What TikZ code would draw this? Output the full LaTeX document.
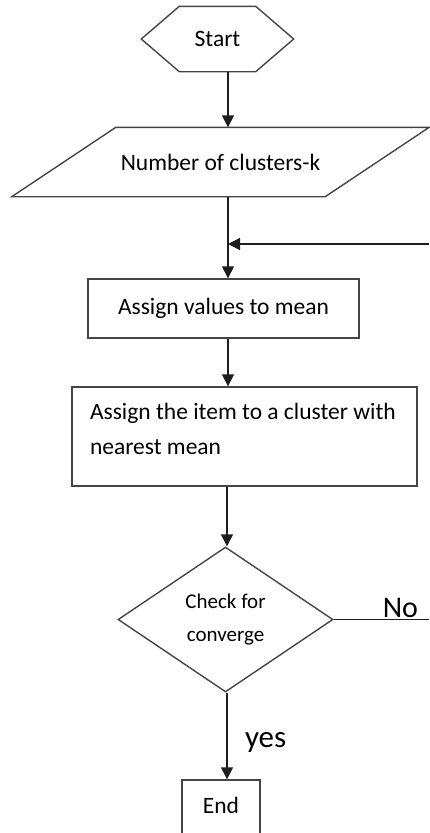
\documentclass[tikz,border=0pt]{standalone}
\usepackage{fontspec}
\setmainfont{Carlito}
\usetikzlibrary{arrows.meta,positioning,calc,shapes.geometric}
\definecolor{Ink}{HTML}{1E1E1E}
\definecolor{Frame}{HTML}{454545}
\begin{document}
\begin{tikzpicture}[x=1pt,y=-1pt,line width=1.4pt,
  flow/.style={-{Triangle[length=12pt,width=12pt]},draw=Ink},
  box/.style={draw=Frame,rectangle,inner sep=0pt},
  txt/.style={font=\fontsize{23.5}{35}\selectfont}]
  \useasboundingbox (0,0) rectangle (429,833);
  % start and input
  \node[txt,minimum width=151,minimum height=64] (start) at (217.5,39) {Start};
  \draw[Frame] (start.west) -- ($(start.north west)+(38,0)$) -- ($(start.north east)+(-38,0)$)
    -- (start.east) -- ($(start.south east)+(-38,0)$) -- ($(start.south west)+(38,0)$) -- cycle;
  \node[txt,minimum width=312,minimum height=68] (input) at (220.5,162) {Number of clusters-k};
  \draw[Frame] ($(input.north west)+(52,0)$) -- ($(input.north east)+(52,0)$)
    -- ($(input.south east)+(-52,0)$) -- ($(input.south west)+(-52,0)$) -- cycle;
  % process boxes
  \node[box,txt,minimum width=271,minimum height=59] (means) at (223.5,308.5) {Assign values to mean};
  \node[box,txt,minimum width=345,minimum height=99,text width=309,text depth=50pt,align=flush left]
    (item) at (244.5,436.5) {Assign the item to a cluster with\\nearest mean};
  \node[draw=Frame,diamond,minimum width=215,minimum height=145,inner sep=0pt,
    font=\fontsize{21}{33}\selectfont,align=center] (check) at (225.5,619.5) {Check for\\converge};
  \node[box,txt,minimum width=78,minimum height=60,text depth=10pt] (stop) at (221,810) {End};
  % connectors
  \coordinate (spine) at (228,0);
  \coordinate (lowspine) at (227,0);
  \coordinate (join) at (228,244);
  \coordinate (loopin) at (429,244);
  \coordinate (loopout) at (429,619.5);
  \draw[flow] (start.south -| spine) -- (input.north -| spine);
  \draw[flow] (input.south -| spine) -- (means.north -| spine);
  \draw[flow] (loopin) -- (join);
  \draw[flow] (means.south -| spine) -- (item.north -| spine);
  \draw[flow] (item.south -| lowspine) -- (check.north -| lowspine);
  \draw[draw=Ink] (check.east) -- (loopout)
    node[pos=0.7,above,inner sep=1pt,font=\fontsize{30}{32}\selectfont] {No};
  \draw[flow] (check.south -| lowspine) -- (stop.north -| lowspine)
    node[pos=0.57,right=14pt,font=\fontsize{31}{32}\selectfont] {yes};
\end{tikzpicture}
\end{document}
